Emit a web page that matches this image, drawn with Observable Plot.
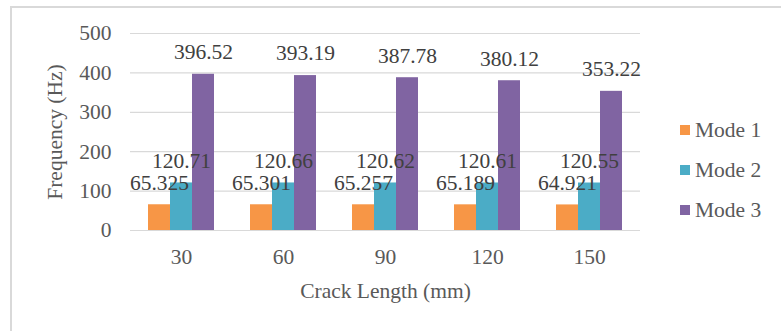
<!DOCTYPE html>
<html>
<head>
<meta charset="utf-8">
<script src="https://cdn.jsdelivr.net/npm/d3@7"></script>
<script src="https://cdn.jsdelivr.net/npm/@observablehq/plot@0.6"></script>
<style>
  html, body { margin: 0; padding: 0; background: #fff; overflow: hidden; }
  #wrap { position: relative; width: 781px; height: 331px; overflow: hidden; }
  #frame { position: absolute; left: 10px; top: 6px; width: 800px; height: 400px; border: 2px solid #d9d9d9; box-sizing: border-box; }
  #chart { position: absolute; left: 0; top: 0; }
  #legend { position: absolute; left: 680px; top: 110px; color: #595959; }
  .row { display: flex; align-items: center; height: 40px; line-height: 40px; }
  .sw { width: 10px; height: 10px; margin-right: 5px; }
</style>
</head>
<body>
<div id="wrap">
  <div id="frame"></div>
  <div id="chart"></div>
  <div id="legend"></div>
</div>
<script>
const categories = ["30", "60", "90", "120", "150"];
const modes = ["Mode 1", "Mode 2", "Mode 3"];
const mode1 = [65.325, 65.301, 65.257, 65.189, 64.921];
const mode2 = [120.71, 120.66, 120.62, 120.61, 120.55];
const mode3 = [396.52, 393.19, 387.78, 380.12, 353.22];
const colors = ["#F79646", "#4BACC6", "#8064A2"];
const yTicks = [0, 100, 200, 300, 400, 500];

const FONT = "Liberation Serif";

const series = [mode1, mode2, mode3];
const data = [];
categories.forEach((c, i) => {
  modes.forEach((m, j) => {
    data.push({cat: c, mode: m, value: series[j][i]});
  });
});

const chart = Plot.plot({
  width: 781,
  height: 331,
  marginLeft: 129,
  marginRight: 141,
  marginTop: 33,
  marginBottom: 101,
  style: {fontFamily: FONT, fontSize: "21.5px", color: "#595959", background: "transparent", overflow: "visible"},
  fx: {domain: categories, padding: 0},
  x: {domain: modes, paddingInner: 0, paddingOuter: 0.72, axis: null},
  y: {domain: [0, 500]},
  color: {domain: modes, range: colors},
  marks: [
    Plot.ruleY(yTicks, {stroke: "#d9d9d9", strokeWidth: 1.2}),
    Plot.axisY(yTicks, {tickSize: 0, tickPadding: 19, label: "Frequency (Hz)", labelAnchor: "center", labelArrow: "none", labelOffset: 84}),
    Plot.axisFx({anchor: "bottom", tickSize: 0, tickPadding: 18, label: "Crack Length (mm)", labelAnchor: "center", labelArrow: "none", labelOffset: 67}),
    Plot.barY(data, {fx: "cat", x: "mode", y: "value", fill: "mode"}),
    Plot.text(data, {fx: "cat", x: "mode", y: "value", text: d => String(d.value), dy: -22, lineAnchor: "middle", fill: "#404040"})
  ]
});
document.getElementById("chart").appendChild(chart);

const legend = document.getElementById("legend");
modes.forEach((m, j) => {
  const row = document.createElement("div");
  row.className = "row";
  const sw = document.createElement("div");
  sw.className = "sw";
  sw.style.background = colors[j];
  const t = document.createElement("span");
  t.textContent = m;
  t.style.fontFamily = FONT;
  t.style.fontSize = "21.5px";
  row.appendChild(sw);
  row.appendChild(t);
  legend.appendChild(row);
});
</script>
</body>
</html>
